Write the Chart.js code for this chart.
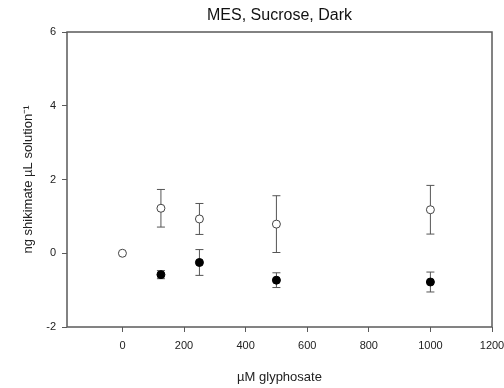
<!DOCTYPE html>
<html>
<head>
<meta charset="utf-8">
<script src="https://cdn.jsdelivr.net/npm/chart.js@4.4.1/dist/chart.umd.min.js"></script>
<style>
html,body{margin:0;padding:0;background:#fff;}
canvas{display:block;}
</style>
</head>
<body>
<canvas id="c" width="504" height="388"></canvas>
<script>
const xTicks = [0, 200, 400, 600, 800, 1000, 1200];
const yTicks = [-2, 0, 2, 4, 6];
const openX = [0, 125, 250, 500, 1000];
const openY = [0, 1.22, 0.93, 0.79, 1.18];
const openErr = [0, 0.51, 0.42, 0.77, 0.66];
const filledX = [125, 250, 500, 1000];
const filledY = [-0.58, -0.25, -0.73, -0.78];
const filledErr = [0.11, 0.35, 0.20, 0.27];

const FONT = "'Liberation Sans', Arial, sans-serif";
const AX = '#5a5a5a';

function pts(xs, ys, es) {
  return xs.map((x, i) => ({x: x, y: ys[i], err: es[i]}));
}

const errorBars = {
  id: 'errorBars',
  beforeDatasetsDraw(chart) {
    const ctx = chart.ctx;
    const xs = chart.scales.x, ys = chart.scales.y;
    ctx.save();
    ctx.strokeStyle = '#555';
    ctx.lineWidth = 1;
    chart.data.datasets.forEach(ds => {
      ds.data.forEach(p => {
        if (!p.err) return;
        const px = xs.getPixelForValue(p.x);
        const top = ys.getPixelForValue(p.y + p.err);
        const bot = ys.getPixelForValue(p.y - p.err);
        ctx.beginPath();
        ctx.moveTo(px, top); ctx.lineTo(px, bot);
        ctx.moveTo(px - 4, top); ctx.lineTo(px + 4, top);
        ctx.moveTo(px - 4, bot); ctx.lineTo(px + 4, bot);
        ctx.stroke();
      });
    });
    ctx.restore();
  }
};

const frame = {
  id: 'frame',
  afterDraw(chart) {
    const a = chart.chartArea, ctx = chart.ctx;
    ctx.save();
    ctx.strokeStyle = AX;
    ctx.lineWidth = 1.5;
    ctx.strokeRect(a.left, a.top, a.right - a.left, a.bottom - a.top);
    ctx.restore();
  }
};

new Chart(document.getElementById('c'), {
  type: 'scatter',
  data: {
    datasets: [
      {
        label: 'open',
        data: pts(openX, openY, openErr),
        pointRadius: 4, pointHoverRadius: 4,
        pointBackgroundColor: '#fff', pointBorderColor: '#444', pointBorderWidth: 1
      },
      {
        label: 'filled',
        data: pts(filledX, filledY, filledErr),
        pointRadius: 4, pointHoverRadius: 4,
        pointBackgroundColor: '#000', pointBorderColor: '#000', pointBorderWidth: 1
      }
    ]
  },
  options: {
    responsive: false,
    animation: false,
    events: [],
    layout: {padding: {left: 0, right: 0, top: 0, bottom: 0}},
    plugins: {
      legend: {display: false},
      tooltip: {enabled: false},
      title: {
        display: true,
        fullSize: false,
        text: 'MES, Sucrose, Dark',
        color: '#111',
        font: {family: FONT, size: 16, weight: 'normal'},
        padding: {top: 6, bottom: 6.8}
      }
    },
    scales: {
      x: {
        type: 'linear',
        min: -180, max: 1200,
        afterBuildTicks: s => { s.ticks = xTicks.map(v => ({value: v})); },
        afterFit: s => { s.height = 61; s.paddingRight = 12; s.paddingLeft = 0; },
        grid: {drawOnChartArea: false, drawTicks: true, tickLength: 5, color: AX, lineWidth: 1},
        border: {display: false},
        ticks: {color: '#222', font: {family: FONT, size: 11}, padding: 7, maxRotation: 0, autoSkip: false,
                callback: v => String(v)},
        title: {display: true, text: 'µM glyphosate', color: '#222', font: {family: FONT, size: 13}, padding: {top: 0, bottom: 3}}
      },
      y: {
        type: 'linear',
        min: -2, max: 6,
        afterBuildTicks: s => { s.ticks = yTicks.map(v => ({value: v})); },
        afterFit: s => { s.width = 67; },
        grid: {drawOnChartArea: false, drawTicks: true, tickLength: 5, color: AX, lineWidth: 1},
        border: {display: false},
        ticks: {color: '#222', font: {family: FONT, size: 11}, padding: 6, autoSkip: false,
                callback: v => String(v)},
        title: {display: true, text: 'ng shikimate µL solution⁻¹', color: '#222', font: {family: FONT, size: 13}, padding: {top: 21, bottom: 0}}
      }
    }
  },
  plugins: [errorBars, frame]
});
</script>
</body>
</html>
